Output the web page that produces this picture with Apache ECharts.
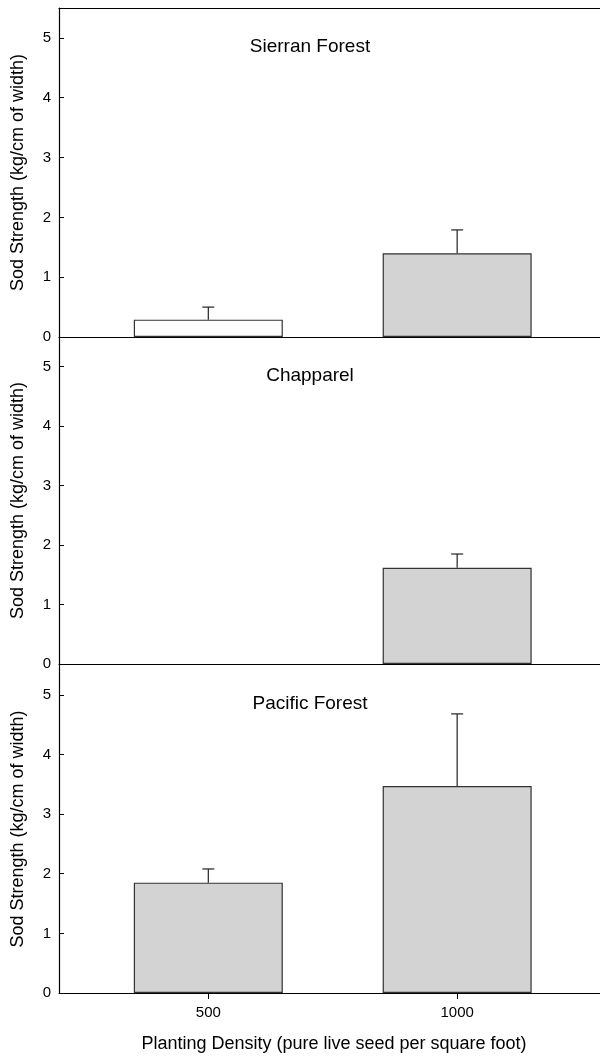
<!DOCTYPE html>
<html>
<head>
<meta charset="utf-8">
<script src="https://cdn.jsdelivr.net/npm/echarts@6/dist/echarts.min.js"></script>
<style>html,body{margin:0;padding:0;background:#fff;}#c{width:600px;height:1059px;}</style>
</head>
<body>
<div id="c"></div>
<script>
// Data
const densities = [500, 1000];
const panelTitles = ['Sierran Forest', 'Chapparel', 'Pacific Forest'];
const sierranMeans = [0.29, 1.40];
const sierranErr = [0.21, 0.39];
const chapparelMeans = [null, 1.62];
const chapparelErr = [null, 0.23];
const pacificMeans = [1.85, 3.47];
const pacificErr = [0.23, 1.21];
const yTickValues = [0, 1, 2, 3, 4, 5];
const xTickValues = [500, 1000];
const yAxisTitle = 'Sod Strength (kg/cm of width)';
const xAxisTitle = 'Planting Density (pure live seed per square foot)';

const panels = [
  {means: sierranMeans, err: sierranErr, fills: ['#ffffff', '#d3d3d3']},
  {means: chapparelMeans, err: chapparelErr, fills: ['#d3d3d3', '#d3d3d3']},
  {means: pacificMeans, err: pacificErr, fills: ['#d3d3d3', '#d3d3d3']}
];

const FONT = 'Liberation Sans, Arial, sans-serif';
const gridTops = [8, 337, 665];
const gridHeights = [329, 327, 328];

const grids = [], xAxes = [], yAxes = [], series = [], graphics = [];
panels.forEach((p, i) => {
  grids.push({left: 59, right: 0, top: gridTops[i], height: gridHeights[i]});
  const last = i === panels.length - 1;
  xAxes.push({
    type: 'value', gridIndex: i, min: 200, max: 1287,
    axisLine: {show: true, onZero: false, lineStyle: {color: '#000', width: 1.2}},
    axisTick: {show: last, customValues: xTickValues, length: 6, lineStyle: {color: '#000'}},
    axisLabel: {show: last, customValues: xTickValues, fontSize: 15, color: '#000', fontFamily: FONT, margin: 12,
      formatter: v => String(v)},
    splitLine: {show: false},
    name: last ? xAxisTitle : '', nameLocation: 'middle', nameGap: 42,
    nameTextStyle: {fontSize: 18, color: '#000', fontFamily: FONT, padding: [0, 0, 0, 9]}
  });
  yAxes.push({
    type: 'value', gridIndex: i, min: 0, max: 5.5,
    axisLine: {show: true, lineStyle: {color: '#000', width: 1.2}},
    axisTick: {show: true, inside: true, length: 5, customValues: yTickValues, lineStyle: {color: '#000'}},
    axisLabel: {customValues: yTickValues, fontSize: 15, color: '#000', fontFamily: FONT, margin: 8},
    splitLine: {show: false},
    name: yAxisTitle, nameLocation: 'middle', nameGap: 32, nameRotate: 90,
    nameTextStyle: {fontSize: 18, color: '#000', fontFamily: FONT}
  });
  series.push({
    type: 'bar', xAxisIndex: i, yAxisIndex: i, barWidth: 149,
    data: densities.map((d, k) => ({
      value: [d, p.means[k]],
      itemStyle: {color: p.fills[k], borderColor: '#333', borderWidth: 1.2}
    })).filter(o => o.value[1] !== null),
    silent: true, animation: false
  });
  series.push({
    type: 'custom', xAxisIndex: i, yAxisIndex: i,
    data: densities.map((d, k) => [d, p.means[k], p.err[k]]).filter(r => r[1] !== null),
    renderItem: function (params, api) {
      const x = api.value(0), m = api.value(1), e = api.value(2);
      const base = api.coord([x, m]);
      const top = api.coord([x, m + e]);
      return {
        type: 'group',
        children: [
          {type: 'line', shape: {x1: base[0], y1: base[1], x2: top[0], y2: top[1]}, style: {stroke: '#222', lineWidth: 1.2}},
          {type: 'line', shape: {x1: top[0] - 6, y1: top[1], x2: top[0] + 6, y2: top[1]}, style: {stroke: '#222', lineWidth: 1.2}}
        ]
      };
    },
    z: 5, silent: true, animation: false
  });
  graphics.push({
    type: 'text', x: 310, y: gridTops[i] + 39,
    style: {text: panelTitles[i], fontSize: 19, fontFamily: FONT, fill: '#000', textAlign: 'center', textVerticalAlign: 'middle'}
  });
});
// top border line for first panel
xAxes.push({
  type: 'value', gridIndex: 0, position: 'top', min: 200, max: 1287,
  axisLine: {show: true, onZero: false, lineStyle: {color: '#000', width: 1.2}},
  axisTick: {show: false}, axisLabel: {show: false}, splitLine: {show: false}
});

const chart = echarts.init(document.getElementById('c'), null, {renderer: 'canvas'});
chart.setOption({
  animation: false,
  backgroundColor: '#fff',
  grid: grids, xAxis: xAxes, yAxis: yAxes, series: series, graphic: graphics
});
</script>
</body>
</html>
